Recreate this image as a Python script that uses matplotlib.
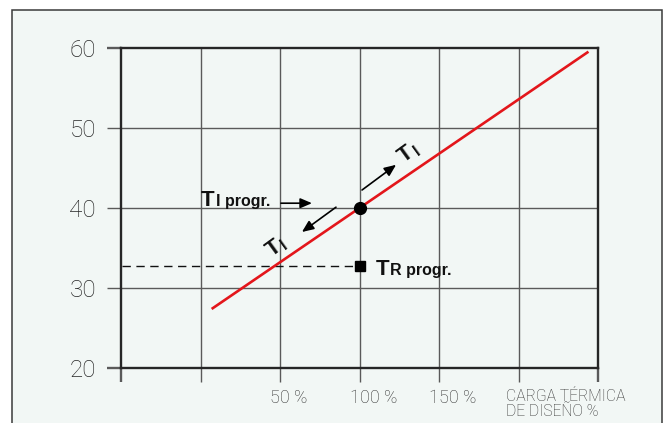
import matplotlib
matplotlib.use("Agg")
import matplotlib.pyplot as plt
import matplotlib.patches as mpatches
import matplotlib.transforms as mtransforms

# ---- data ----
x_ticks = [-50, 0, 50, 100, 150, 200, 250]
x_ticklabels = ["", "", "50 %", "100 %", "150 %", "CARGA TÉRMICA\nDE DISEÑO %", ""]
y_ticks = [20, 30, 40, 50, 60]
y_ticklabels = ["20", "30", "40", "50", "60"]
curve_x = [7, 244]
curve_y = [27.38, 59.54]
design_x = [100]
design_y = [40]
tr_x = [100]
tr_y = [32.75]

fig = plt.figure(figsize=(6.68, 4.23), dpi=100)
fig.patch.set_facecolor("white")
W, H = 668, 423

# outer frame
frame = mpatches.Rectangle((12.5 / W, -0.1), (662 - 12.5) / W, 1.1 - 10 / H,
                           transform=fig.transFigure, facecolor="#f2f7f5",
                           edgecolor="#3a3a3a", lw=1.1, zorder=-10)
fig.patches.append(frame)

ax = fig.add_axes([121 / W, 1 - 368 / H, 477 / W, 320 / H])
ax.set_facecolor("none")
ax.set_xlim(-50, 250)
ax.set_ylim(20, 60)

dark = "#262626"
grey = "#5a5a5a"

# grid
for xv in x_ticks[1:-1]:
    ax.axvline(xv, color=grey, lw=1.0, zorder=1)
for yv in y_ticks[1:-1]:
    ax.axhline(yv, color=grey, lw=1.0, zorder=1)

for s in ["left", "right", "top", "bottom"]:
    ax.spines[s].set_color(dark)
    ax.spines[s].set_linewidth(1.7)

ax.set_xticks(x_ticks)
ax.set_xticklabels(x_ticklabels)
ax.set_yticks(y_ticks)
ax.set_yticklabels(y_ticklabels)
ax.tick_params(axis="both", direction="out", length=10, width=1.0, color=grey)
ax.tick_params(axis="y", pad=8, labelsize=17.5, labelcolor="#262626")
ax.tick_params(axis="x", pad=5, labelsize=13, labelcolor="#333333")

for i, t in enumerate(ax.xaxis.get_major_ticks()):
    if i in (0, len(x_ticks) - 1):
        t.tick1line.set_color(dark)
        t.tick1line.set_markeredgewidth(1.7)
for i, t in enumerate(ax.yaxis.get_major_ticks()):
    if y_ticks[i] in (20, 60):
        t.tick1line.set_color(dark)
        t.tick1line.set_markeredgewidth(1.7)

light_fam = ["Roboto", "Liberation Sans", "DejaVu Sans"]
for lab in ax.get_yticklabels():
    lab.set_fontfamily(light_fam)
    lab.set_fontweight("light")

offset = mtransforms.ScaledTranslation(-7 / 72, 0, fig.dpi_scale_trans)
for lab in ax.get_xticklabels():
    lab.set_horizontalalignment("left")
    lab.set_fontfamily(light_fam)
    lab.set_fontweight("light")
    lab.set_transform(lab.get_transform() + offset)
    if "CARGA" in lab.get_text():
        lab.set_fontsize(11.3)
        lab.set_linespacing(1.0)
        lab.set_transform(lab.get_transform() + mtransforms.ScaledTranslation(-2 / 72, 0, fig.dpi_scale_trans))

# red line
ax.plot(curve_x, curve_y, color="#e3161b", lw=1.9, zorder=4, solid_capstyle="butt")

# dashed line to TR progr.
ax.plot([-49.5, tr_x[0]], [tr_y[0], tr_y[0]], color="#111111", lw=1.0,
        dashes=(6, 4), zorder=3)

# markers
ax.plot(design_x, design_y, "o", color="black", ms=8.5, zorder=5)
ax.plot(tr_x, tr_y, "s", color="black", ms=7, zorder=5)

fam = ["Liberation Sans", "DejaVu Sans"]
txt_kw = dict(color="#111111", family=fam, zorder=6)

# T_I progr.
ax.text(0.3, 40.25, "T", fontsize=16, ha="left", va="baseline", fontweight="bold", **txt_kw)
ax.text(9.8, 40.25, "I progr.", fontsize=11.5, ha="left", va="baseline",
        fontweight="bold", **txt_kw)
# T_R progr.
ax.text(110.2, 31.6, "T", fontsize=16, ha="left", va="baseline", fontweight="bold", **txt_kw)
ax.text(119.4, 31.6, "R progr.", fontsize=11.5, ha="left", va="baseline",
        fontweight="bold", **txt_kw)

# rotated T_I labels
rot = 36
for (tx, ty, ix, iy) in [(128.0, 45.6, 136.5, 46.5), (45.0, 33.9, 53.3, 34.7)]:
    ax.text(tx, ty, "T", fontsize=16, rotation=rot, rotation_mode="anchor",
            ha="left", va="baseline", fontweight="bold", **txt_kw)
    ax.text(ix, iy, "I", fontsize=11.5, rotation=rot, rotation_mode="anchor",
            ha="left", va="baseline", fontweight="bold", **txt_kw)

arrow_kw = dict(arrowstyle="-|>,head_length=0.7,head_width=0.3", color="black",
                lw=1.2, shrinkA=0, shrinkB=0)
ax.annotate("", xy=(70.1, 40.6), xytext=(50.6, 40.6), arrowprops=arrow_kw, zorder=6)
ax.annotate("", xy=(123.0, 45.4), xytext=(101.6, 42.25), arrowprops=arrow_kw, zorder=6)
ax.annotate("", xy=(63.8, 37.0), xytext=(85.2, 40.1), arrowprops=arrow_kw, zorder=6)

fig.savefig("out.png", dpi=100, facecolor=fig.get_facecolor())
